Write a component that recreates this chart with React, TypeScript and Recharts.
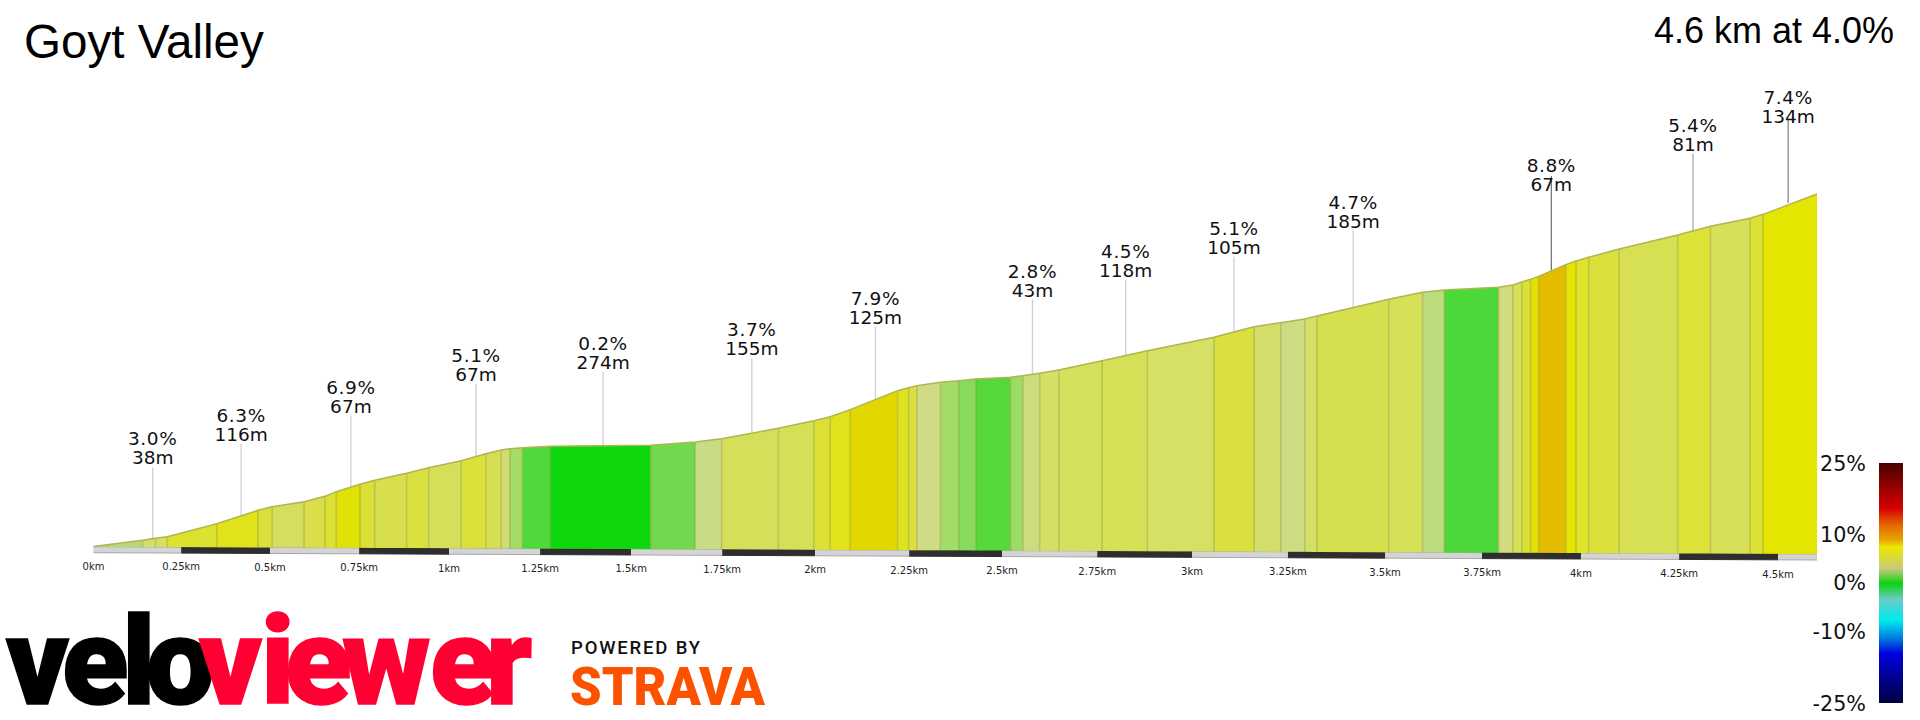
import React from "react";
import { ComposedChart, Area, Line, Scatter, ReferenceLine, XAxis, YAxis } from "recharts";

const titleText = "Goyt Valley";
const summaryText = "4.6 km at 4.0%";

// Distance along the drawn profile (km as drawn), height (m as drawn) and drawn ground line.
const stopKm = [0,0.1307,0.1655,0.1971,0.3289,0.439,0.4771,0.5621,0.6176,0.6482,0.7113,0.7505,0.8356,0.8944,0.9815,1.0469,1.0883,1.1112,1.1449,1.219,1.487,1.6057,1.6765,1.828,1.9227,1.9663,2.0197,2.1461,2.1755,2.1973,2.2605,2.3095,2.3552,2.4478,2.4805,2.5252,2.5764,2.6919,2.8128,2.9904,3.0974,3.1687,3.2327,3.2656,3.4566,3.5474,3.6054,3.75,3.788,3.8123,3.8355,3.8566,3.9294,3.9569,3.9906,4.0719,4.2281,4.3157,4.4213,4.4561,4.6];
const stopHeight = [7.3,10.33,11.33,12.17,18.67,25.33,27.17,29.67,32.33,34.67,38.33,40.33,43.83,46.67,50.17,53.67,55.5,56.17,56.67,57.33,57.83,59.5,61.17,66.33,70.17,72.17,75.67,85.17,86.67,87.67,89.33,90.17,91,91.83,92.67,93.83,95.5,100.17,105.17,111.85,117.15,119.15,121,122.5,130.83,134.33,135.5,136.83,138,139.5,140.83,142.33,148.17,150,151.83,156,163,167.33,171.33,173.33,183.5];
const stopGround = [7.15,7.05,7.02,7,6.89,6.8,6.77,6.7,6.66,6.64,6.59,6.55,6.49,6.44,6.37,6.32,6.29,6.27,6.24,6.18,5.97,5.88,5.82,5.7,5.63,5.59,5.55,5.45,5.43,5.41,5.36,5.32,5.28,5.21,5.18,5.15,5.11,5.02,4.92,4.78,4.69,4.64,4.59,4.56,4.41,4.34,4.29,4.18,4.15,4.13,4.11,4.09,4.03,4.01,3.99,3.92,3.8,3.73,3.64,3.62,3.5];
const segmentColors = ["#b8d96e","#d4de6c","#d5e062","#dce32e","#e0e31a","#d9e03c","#d6de5e","#dade48","#dce032","#e0e205","#dbe038","#d8df4c","#dae040","#d6df5a","#dbe03a","#d6de54","#d3dc72","#a5dc66","#50d93a","#10d60e","#72d94e","#c8dc85","#d6df5a","#d6df58","#dce034","#e0e31c","#e2d800","#dfe31e","#dbe040","#cfdc84","#a2dd68","#88da5c","#55d83a","#9cdc66","#ccdc7e","#d4df66","#d5e05c","#d6e056","#d5e064","#d9e040","#d3dd6a","#cfdd82","#d4df66","#d6e04e","#d6df58","#bddc7e","#4cd838","#d0dc7e","#d6e058","#dbe034","#e2e100","#e3bc00","#e4e400","#dfe32a","#dae03c","#d6e052","#dce238","#d7e058","#dce234","#e4e500"];

// Distance strip and axis
const tickKm = [0,0.234,0.471,0.709,0.949,1.192,1.435,1.678,1.926,2.177,2.425,2.679,2.932,3.188,3.447,3.706,3.97,4.232,4.496];
const tickLabels = ["0km","0.25km","0.5km","0.75km","1km","1.25km","1.5km","1.75km","2km","2.25km","2.5km","2.75km","3km","3.25km","3.5km","3.75km","4km","4.25km","4.5km"];
const stripKm = [...tickKm, 4.6];
const stripTop = [7.15,6.96,6.78,6.59,6.4,6.2,6.01,5.82,5.62,5.42,5.23,5.03,4.83,4.62,4.42,4.21,4,3.79,3.58,3.5];
const stripBottom = [4.15,3.96,3.78,3.59,3.4,3.2,3.01,2.82,2.62,2.42,2.23,2.03,1.83,1.62,1.42,1.21,1,0.79,0.58,0.5];

// Callouts
const calloutPct = ["3.0%","6.3%","6.9%","5.1%","0.2%","3.7%","7.9%","2.8%","4.5%","5.1%","4.7%","8.8%","5.4%","7.4%"];
const calloutLen = ["38m","116m","67m","67m","274m","155m","125m","43m","118m","105m","185m","67m","81m","134m"];
const calloutKm = [0.158,0.394,0.687,1.021,1.36,1.757,2.087,2.506,2.755,3.044,3.362,3.891,4.269,4.523];
const calloutFoot = [11.1,22.6,37,52.5,57.6,64,80.7,93.1,102.7,114.5,126.7,145.2,165,179];
const calloutTop = [46.8,58.5,72.5,88.5,94.5,101.3,117.2,130.7,140.5,152.1,165,192.5,203.5,221];
const calloutText = [48.3,60,74,90,96,102.8,118.7,132.2,142,153.6,166.5,185,205,219];
const calloutShade = ["#cfcfcf","#cfcfcf","#cfcfcf","#cfcfcf","#cfcfcf","#cfcfcf","#cfcfcf","#cfcfcf","#cfcfcf","#cfcfcf","#cfcfcf","#777777","#aaaaaa","#888888"];

// Gradient legend
const legendLabels = ["25%","10%","0%","-10%","-25%"];
const legendLabelY = [471,542,590,639,711];
const legendOffsets = [0,0.085,0.19,0.26,0.32,0.35,0.44,0.46,0.5,0.57,0.626,0.654,0.737,0.793,0.876,1];
const legendColors = ["#4a0000","#8a0000","#d80000","#e56a00","#e8a400","#eaea00","#c9c97a","#90cc60","#0bd40b","#6acbcb","#22e0e0","#00eeee","#0070e0","#0000e0","#0000a0","#000040"];

// Wordmark letters
const logoBlack = "velo";
const logoRed = "viewer";

const segments = segmentColors.map((color, i) => ({
  color,
  rows: [
    { km: stopKm[i], band: [stopGround[i], stopHeight[i]] },
    { km: stopKm[i + 1], band: [stopGround[i + 1], stopHeight[i + 1]] },
  ],
}));
const profileRows = stopKm.map((km, i) => ({ km, top: stopHeight[i] }));
const stripBands = stripKm.slice(0, -1).map((km, i) => ({
  dark: i % 2 === 1,
  rows: [
    { km, band: [stripBottom[i], stripTop[i]] },
    { km: stripKm[i + 1], band: [stripBottom[i + 1], stripTop[i + 1]] },
  ],
}));
const calloutRows = calloutKm.map((km, i) => ({
  km,
  y: calloutText[i],
  pct: calloutPct[i],
  len: calloutLen[i],
}));

const CalloutShape = (props: any) => {
  const { cx, cy, payload } = props;
  return (
    <g fontFamily="'DejaVu Sans'" fontSize={18.5} fill="#111" textAnchor="middle">
      <text x={cx} y={cy - 19} letterSpacing={0.6}>{payload.pct}</text>
      <text x={cx} y={cy}>{payload.len}</text>
    </g>
  );
};

const KmTick = (props: any) => {
  const { x, y, payload, index } = props;
  return (
    <text x={x} y={y + (payload.value / 4.5) * 7.7 + 3} textAnchor="middle" fontFamily="'DejaVu Sans'" fontSize={10} fill="#222">
      {tickLabels[index]}
    </text>
  );
};

const Overlay = () => (
  <svg width={1920} height={720} style={{ position: "absolute", left: 0, top: 0, pointerEvents: "none" }}>
    <defs>
      <linearGradient id="gradeScale" x1="0" y1="0" x2="0" y2="1">
        {legendOffsets.map((o, i) => (
          <stop key={i} offset={o} stopColor={legendColors[i]} />
        ))}
      </linearGradient>
    </defs>
    <text x={24} y={58} fontFamily="'Liberation Sans'" fontSize={47.6} fill="#000">{titleText}</text>
    <text x={1894} y={43} textAnchor="end" fontFamily="'Liberation Sans'" fontSize={36} fill="#000">{summaryText}</text>
    <rect x={1879} y={463} width={24} height={240} fill="url(#gradeScale)" />
    {legendLabels.map((t, i) => (
      <text key={t} x={1866} y={legendLabelY[i]} textAnchor="end" fontFamily="'DejaVu Sans'" fontSize={20.7} fill="#111">{t}</text>
    ))}
    <text x="6 62 122 146" y={704} fontFamily="Roboto" fontWeight={900} fontSize={122} fill="#000" stroke="#000" strokeWidth={1.5}>{logoBlack}</text>
    <text x="199 261 285 342 430 486" y={704} fontFamily="Roboto" fontWeight={900} fontSize={122} fill="#ff0033" stroke="#ff0033" strokeWidth={1.5}>{logoRed}</text>
    <text x={571} y={654} fontFamily="Roboto" fontWeight={500} fontSize={18.5} fill="#111" textLength={129} lengthAdjust="spacing">POWERED BY</text>
    <text x={570} y={705} fontFamily="Roboto" fontWeight={900} fontSize={53} fill="#fc5200" textLength={195} lengthAdjust="spacingAndGlyphs">STRAVA</text>
  </svg>
);

export default function App() {
  return (
    <div style={{ position: "absolute", left: 0, top: 0, width: 1920, height: 720, overflow: "hidden", background: "#fff" }}>
      <ComposedChart width={1920} height={720} margin={{ top: 60, right: 103, bottom: 129, left: 93.5 }}>
        <XAxis
          dataKey="km"
          type="number"
          domain={[0, 4.6]}
          ticks={tickKm}
          interval={0}
          axisLine={false}
          tickLine={false}
          tickMargin={0}
          height={30}
          tick={<KmTick />}
        />
        <YAxis hide type="number" domain={[0, 250.5]} />
        {stripBands.map((b, i) => (
          <Area
            key={"strip" + i}
            data={b.rows}
            dataKey="band"
            type="linear"
            fill={b.dark ? "#2e2e2e" : "#d4d4d4"}
            fillOpacity={1}
            stroke={b.dark ? "#2e2e2e" : "#a8a8a8"}
            strokeWidth={1}
            dot={false}
            activeDot={false}
            isAnimationActive={false}
          />
        ))}
        {segments.map((s, i) => (
          <Area
            key={"seg" + i}
            data={s.rows}
            dataKey="band"
            type="linear"
            fill={s.color}
            fillOpacity={1}
            stroke="none"
            dot={false}
            activeDot={false}
            isAnimationActive={false}
          />
        ))}
        {stopKm.slice(1, -1).map((km, i) => (
          <ReferenceLine
            key={"div" + i}
            segment={[{ x: km, y: stopGround[i + 1] }, { x: km, y: stopHeight[i + 1] }]}
            stroke="#8c8c30"
            strokeOpacity={0.4}
            strokeWidth={1.5}
          />
        ))}
        {calloutKm.map((km, i) => (
          <ReferenceLine
            key={"lead" + i}
            segment={[{ x: km, y: calloutFoot[i] }, { x: km, y: calloutTop[i] }]}
            stroke={calloutShade[i]}
            strokeWidth={1.3}
          />
        ))}
        <Line data={profileRows} dataKey="top" type="linear" stroke="#aeb64e" strokeWidth={1.5} dot={false} activeDot={false} isAnimationActive={false} />
        <Scatter data={calloutRows} dataKey="y" shape={<CalloutShape />} isAnimationActive={false} />
      </ComposedChart>
      <Overlay />
    </div>
  );
}
